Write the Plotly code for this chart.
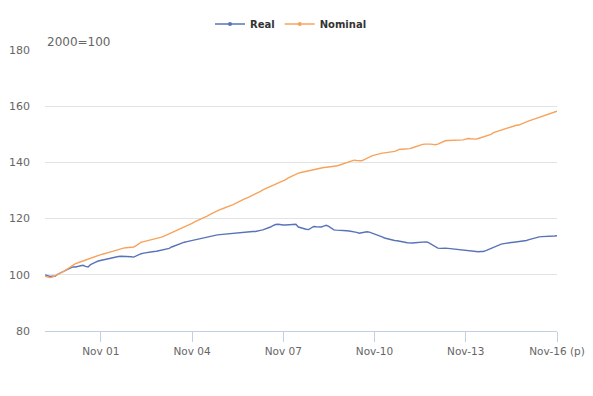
import pandas as pd
import plotly.graph_objects as go

months = pd.date_range("2000-01-01", "2016-11-01", freq="MS")

real = [
    100.0, 99.6, 99.4, 99.5, 99.5, 100.2, 100.6, 101.0, 101.4, 101.9, 102.3, 102.8,
    102.8, 103.1, 103.3, 103.4, 103.0, 102.8, 103.6, 104.2, 104.5, 104.9, 105.1, 105.4,
    105.6, 105.9, 106.1, 106.3, 106.4, 106.5, 106.6, 106.6, 106.5, 106.4, 106.4, 106.3,
    106.8, 107.2, 107.5, 107.7, 107.9, 108.1, 108.2, 108.3, 108.4, 108.6, 108.8, 109.0,
    109.2, 109.4, 109.9, 110.3, 110.7, 111.0, 111.3, 111.6, 111.8, 112.0, 112.2, 112.4,
    112.7, 112.9, 113.2, 113.4, 113.6, 113.7, 113.9, 114.0, 114.2, 114.3, 114.4, 114.5,
    114.6, 114.6, 114.7, 114.8, 114.9, 115.0, 115.1, 115.2, 115.3, 115.3, 115.4, 115.4,
    115.5, 115.8, 116.0, 116.3, 116.6, 117.0, 117.5, 117.9, 118.0, 117.8, 117.7, 117.7,
    117.8, 117.9, 118.0, 118.0, 117.0, 116.7, 116.4, 116.2, 116.1, 116.6, 117.2, 117.1,
    117.0, 117.0, 117.3, 117.6, 117.2, 116.6, 116.0, 115.9, 115.9, 115.8, 115.8, 115.7,
    115.6, 115.5, 115.4, 115.1, 114.8, 115.0, 115.2, 115.3, 115.2, 114.9, 114.6, 114.3,
    113.9, 113.5, 113.1, 112.8, 112.6, 112.4, 112.2, 112.1, 112.0, 111.8, 111.6, 111.4,
    111.3, 111.3, 111.4, 111.5, 111.5, 111.6, 111.7, 111.6, 111.0, 110.4, 109.9, 109.5,
    109.4, 109.5, 109.5, 109.4, 109.3, 109.2, 109.1, 109.0, 108.9, 108.7, 108.5, 108.4,
    108.3, 108.2, 108.1, 108.2, 108.3, 108.3, 108.6, 109.0, 109.4, 109.9, 110.3, 110.6,
    110.9, 111.1, 111.3, 111.4, 111.5, 111.6, 111.7, 111.8, 111.9, 112.0, 112.2, 112.5,
    112.8, 113.1, 113.4, 113.5, 113.6, 113.6, 113.7, 113.7, 113.8, 113.8, 113.9,
]

nominal = [
    99.5, 99.2, 99.0, 99.2, 99.6, 100.0, 100.4, 101.0, 101.6, 102.2, 102.8, 103.4,
    104.0, 104.3, 104.6, 104.9, 105.1, 105.5, 105.9, 106.3, 106.7, 106.9, 107.2, 107.4,
    107.6, 107.9, 108.1, 108.4, 108.7, 109.0, 109.3, 109.5, 109.6, 109.7, 109.8, 109.9,
    110.4, 111.0, 111.6, 111.8, 112.0, 112.2, 112.4, 112.6, 112.8, 113.1, 113.4, 113.8,
    114.2, 114.7, 115.2, 115.6, 116.0, 116.4, 116.8, 117.2, 117.6, 117.9, 118.3, 118.8,
    119.2, 119.5, 119.9, 120.4, 120.9, 121.4, 121.9, 122.4, 122.9, 123.2, 123.5, 123.8,
    124.1, 124.5, 124.9, 125.3, 125.8, 126.3, 126.7, 127.1, 127.5, 127.9, 128.4, 128.8,
    129.2, 129.7, 130.2, 130.6, 131.1, 131.5, 131.9, 132.3, 132.6, 132.9, 133.4, 133.9,
    134.5, 135.0, 135.5, 135.9, 136.2, 136.4, 136.6, 136.8, 137.0, 137.3, 137.6, 137.8,
    138.0, 138.1, 138.2, 138.3, 138.4, 138.5, 138.5, 138.7, 139.0, 139.3, 139.6, 139.9,
    140.2, 140.5, 140.8, 140.7, 140.6, 140.6, 141.0, 141.5, 142.0, 142.3, 142.6, 142.9,
    143.2, 143.3, 143.4, 143.5, 143.5, 143.6, 143.9, 144.3, 144.7, 144.7, 144.7, 144.8,
    144.9, 145.2, 145.5, 145.9, 146.3, 146.4, 146.5, 146.6, 146.5, 146.4, 146.3, 146.5,
    146.9, 147.3, 147.7, 147.8, 147.8, 147.9, 147.9, 147.9, 147.9, 148.0, 148.3, 148.5,
    148.4, 148.3, 148.3, 148.5, 148.8, 149.0, 149.2, 149.5, 150.0, 150.6, 150.9, 151.2,
    151.5, 151.8, 152.2, 152.5, 152.8, 153.0, 153.2, 153.3, 153.6, 154.0, 154.4, 154.8,
    155.1, 155.4, 155.7, 156.0, 156.3, 156.6, 156.9, 157.2, 157.6, 157.9, 158.2,
]

tick_dates = ["2001-11-01", "2004-11-01", "2007-11-01", "2010-11-01", "2013-11-01", "2016-11-01"]
tick_labels = ["Nov 01", "Nov 04", "Nov 07", "Nov-10", "Nov-13", "Nov-16 (p)"]
y_ticks = [80, 100, 120, 140, 160, 180]

REAL_C = "#5873b8"
NOM_C = "#f7a35c"

# page body has an 8px default margin, so the figure is drawn 8px right/down
W, H = 585, 388

fig = go.Figure()
fig.add_trace(go.Scatter(x=months, y=real, mode="lines", line=dict(color=REAL_C, width=1.4),
                         showlegend=False, name="Real"))
fig.add_trace(go.Scatter(x=months, y=nominal, mode="lines", line=dict(color=NOM_C, width=1.4),
                         showlegend=False, name="Nominal"))
# legend entries
fig.add_trace(go.Scatter(x=[None], y=[None], mode="lines+markers", name="Real",
                         line=dict(color=REAL_C, width=1.5), marker=dict(size=4, color=REAL_C)))
fig.add_trace(go.Scatter(x=[None], y=[None], mode="lines+markers", name="Nominal",
                         line=dict(color=NOM_C, width=1.5), marker=dict(size=4, color=NOM_C)))

fig.update_layout(
    width=W, height=H,
    margin=dict(l=37, r=W - (557 - 8), t=42, b=H - (331 - 8), pad=0),
    paper_bgcolor="white", plot_bgcolor="white",
    font=dict(family="DejaVu Sans", size=11, color="#666666"),
    legend=dict(orientation="h", x=(291 - 8) / W, xanchor="center", y=1 - 16 / H, yanchor="middle",
                xref="container", yref="container",
                font=dict(family="DejaVu Sans", size=10, color="#333333", weight="bold"),
                itemwidth=30, tracegroupgap=0),
    xaxis=dict(range=[months[0], months[-1]], tickvals=tick_dates, ticktext=tick_labels,
               showgrid=False, showline=True, linecolor="#C0D0E0", linewidth=1,
               ticks="outside", ticklen=10, tickcolor="#C0D0E0", tickwidth=1,
               tickfont=dict(size=10.5, color="#666666"), zeroline=False, automargin=False),
    yaxis=dict(range=[80, 180], tickvals=y_ticks, showgrid=True, gridcolor="#e3e3e3",
               gridwidth=1, zeroline=False, showline=False, ticks="",
               ticklabelstandoff=14, tickfont=dict(size=11, color="#666666"), automargin=False),
    annotations=[dict(text="2000=100", xref="paper", yref="paper", x=0, y=1,
                      xanchor="left", yanchor="bottom", yshift=-1, showarrow=False,
                      font=dict(family="DejaVu Sans", size=12, color="#666666"))],
)

fig.write_html("out.html")
